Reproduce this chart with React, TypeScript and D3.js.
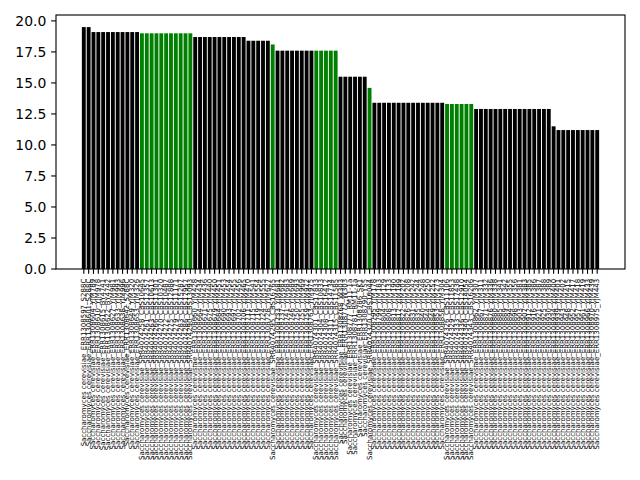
import React from "react";
import * as d3 from "d3";

const species = "Saccharomyces cerevisiae";

const isolates = [
  "ERR1308597_S288C", "ERR1308601_S288C", "ERR1308604_YJM789", "ERR1308610_YJM978",
  "ERR1308615_BY4741", "ERR1308622_BY4742", "ERR1308627_YJM981", "ERR1308633_YJM993",
  "ERR1308638_YJM996", "ERR1308642_S288C", "ERR1308649_YJM320", "ERR1308653_YJM326",
  "SRR4074258_CBS10645", "SRR4074261_CBS12357", "SRR4074263_CBS10613", "SRR4074266_CBS11301",
  "SRR4074270_CBS10320", "SRR4074272_CBS10487", "SRR4074275_CBS12888", "SRR4074279_CBS11171",
  "SRR4074283_CBS15287", "SRR4074286_CBS17957", "SRR4074290_CBS13093",
  "ERR1308660_YJM428", "ERR1308664_YJM434", "ERR1308671_YJM436", "ERR1308675_YJM440",
  "ERR1308679_YJM450", "ERR1308684_YJM451", "ERR1308690_YJM453", "ERR1308693_YJM454",
  "ERR1308697_YJM455", "ERR1308702_YJM456", "ERR1308706_YJM465",
  "ERR1308711_YJM470", "ERR1308715_YJM541", "ERR1308719_YJM554", "ERR1308724_YJM555",
  "ERR1308728_YJM627",
  "SRR4074295_CBS16765",
  "ERR1308733_YJM681", "ERR1308737_YJM682", "ERR1308741_YJM683", "ERR1308746_YJM689",
  "ERR1308750_YJM693", "ERR1308755_YJM969", "ERR1308759_YJM972", "ERR1308763_YJM975",
  "SRR4074301_CBS17833", "SRR4074304_CBS10833", "SRR4074308_CBS16412", "SRR4074311_CBS14734",
  "SRR4074315_CBS11585",
  "ERR1308768_W303", "ERR1308772_W303", "ERR1308777_RM11-1a", "ERR1308781_RM11-1a",
  "ERR1308786_SK1", "ERR1308790_Y55",
  "SRR4074320_CBS16044",
  "ERR1308795_YJM178", "ERR1308799_YJM183", "ERR1308804_YJM129", "ERR1308808_YJM133",
  "ERR1308813_YJM190", "ERR1308817_YJM199", "ERR1308822_YJM202", "ERR1308826_YJM208",
  "ERR1308831_YJM242", "ERR1308835_YJM244", "ERR1308840_YJM248", "ERR1308844_YJM250",
  "ERR1308849_YJM252", "ERR1308853_YJM273", "ERR1308858_YJM304",
  "SRR4074326_CBS11106", "SRR4074329_CBS11853", "SRR4074333_CBS17438", "SRR4074336_CBS12910",
  "SRR4074340_CBS14054", "SRR4074343_CBS16206",
  "ERR1308862_YJM307", "ERR1308867_YJM311", "ERR1308871_YJM332", "ERR1308876_YJM336",
  "ERR1308880_YJM338", "ERR1308885_YJM341", "ERR1308889_YJM342", "ERR1308894_YJM355",
  "ERR1308898_YJM356", "ERR1308903_YJM381", "ERR1308907_YJM383", "ERR1308912_YJM385",
  "ERR1308916_YJM386", "ERR1308921_YJM387", "ERR1308925_YJM388", "ERR1308930_YJM389",
  "ERR1308934_YJM400",
  "ERR1308939_YJM401", "ERR1308943_YJM402", "ERR1308948_YJM415", "ERR1308952_YJM417",
  "ERR1308957_YJM418", "ERR1308961_YJM419", "ERR1308966_YJM433", "ERR1308970_YJM439",
  "ERR1308975_YJM443",
];

const values = [
  19.5, 19.5,
  19.1, 19.1, 19.1, 19.1, 19.1, 19.1, 19.1, 19.1, 19.1, 19.1,
  19.0, 19.0, 19.0, 19.0, 19.0, 19.0, 19.0, 19.0, 19.0, 19.0, 19.0,
  18.7, 18.7, 18.7, 18.7, 18.7, 18.7, 18.7, 18.7, 18.7, 18.7, 18.7,
  18.4, 18.4, 18.4, 18.4, 18.4,
  18.1,
  17.6, 17.6, 17.6, 17.6, 17.6, 17.6, 17.6, 17.6,
  17.6, 17.6, 17.6, 17.6, 17.6,
  15.5, 15.5, 15.5, 15.5, 15.5, 15.5,
  14.6,
  13.4, 13.4, 13.4, 13.4, 13.4, 13.4, 13.4, 13.4, 13.4, 13.4, 13.4, 13.4, 13.4, 13.4, 13.4,
  13.3, 13.3, 13.3, 13.3, 13.3, 13.3,
  12.9, 12.9, 12.9, 12.9, 12.9, 12.9, 12.9, 12.9, 12.9, 12.9, 12.9, 12.9, 12.9, 12.9, 12.9, 12.9,
  11.5,
  11.2, 11.2, 11.2, 11.2, 11.2, 11.2, 11.2, 11.2, 11.2,
];

const highlighted = [
  12, 13, 14, 15, 16, 17, 18, 19, 20, 21, 22,
  39,
  48, 49, 50, 51, 52,
  59,
  75, 76, 77, 78, 79, 80,
];

const yTicks = [0, 2.5, 5, 7.5, 10, 12.5, 15, 17.5, 20];

const FONT = "DejaVu Sans, sans-serif";

export default function App() {
  const W = 640, H = 480;
  const left = 56, right = 625, top = 15, bottom = 269;
  const n = values.length;
  const barW = 0.8;
  const span = n - 1 + barW;
  const x = d3
    .scaleLinear()
    .domain([-barW / 2 - 0.05 * span, n - 1 + barW / 2 + 0.05 * span])
    .range([left, right]);
  const yMax = (d3.max(values) as number) * 1.05;
  const y = d3.scaleLinear().domain([0, yMax]).range([bottom, top]);
  const fmt = d3.format(".1f");
  const tickLen = 4.86;
  const pad = 4.86;
  const lw = 1.11;
  const bw = x(barW) - x(0);

  return (
    <svg
      width={W}
      height={H}
      style={{ position: "absolute", left: 0, top: 0, background: "#fff" }}
      fontFamily={FONT}
    >
      <rect x={0} y={0} width={W} height={H} fill="#fff" />
      {values.map((v, i) => (
        <rect
          key={i}
          x={x(i - barW / 2)}
          y={y(v)}
          width={bw}
          height={y(0) - y(v)}
          fill={highlighted.includes(i) ? "#008000" : "#000000"}
        />
      ))}
      <rect
        x={left}
        y={top}
        width={right - left}
        height={bottom - top}
        fill="none"
        stroke="#000"
        strokeWidth={lw}
      />
      {yTicks.map((t) => (
        <g key={t}>
          <line x1={left - tickLen} x2={left} y1={y(t)} y2={y(t)} stroke="#000" strokeWidth={lw} />
          <text
            x={left - tickLen - pad}
            y={y(t)}
            textAnchor="end"
            dominantBaseline="central"
            fontSize={13.9}
            fill="#000"
          >
            {fmt(t)}
          </text>
        </g>
      ))}
      {isolates.map((s, i) => (
        <g key={i}>
          <line
            x1={x(i)}
            x2={x(i)}
            y1={bottom}
            y2={bottom + tickLen}
            stroke="#000"
            strokeWidth={lw}
          />
          <text
            transform={`translate(${x(i)},${bottom + tickLen + pad}) rotate(-90)`}
            textAnchor="end"
            dominantBaseline="central"
            fontSize={7}
            fill="#000"
          >
            {species + "_" + s}
          </text>
        </g>
      ))}
    </svg>
  );
}
